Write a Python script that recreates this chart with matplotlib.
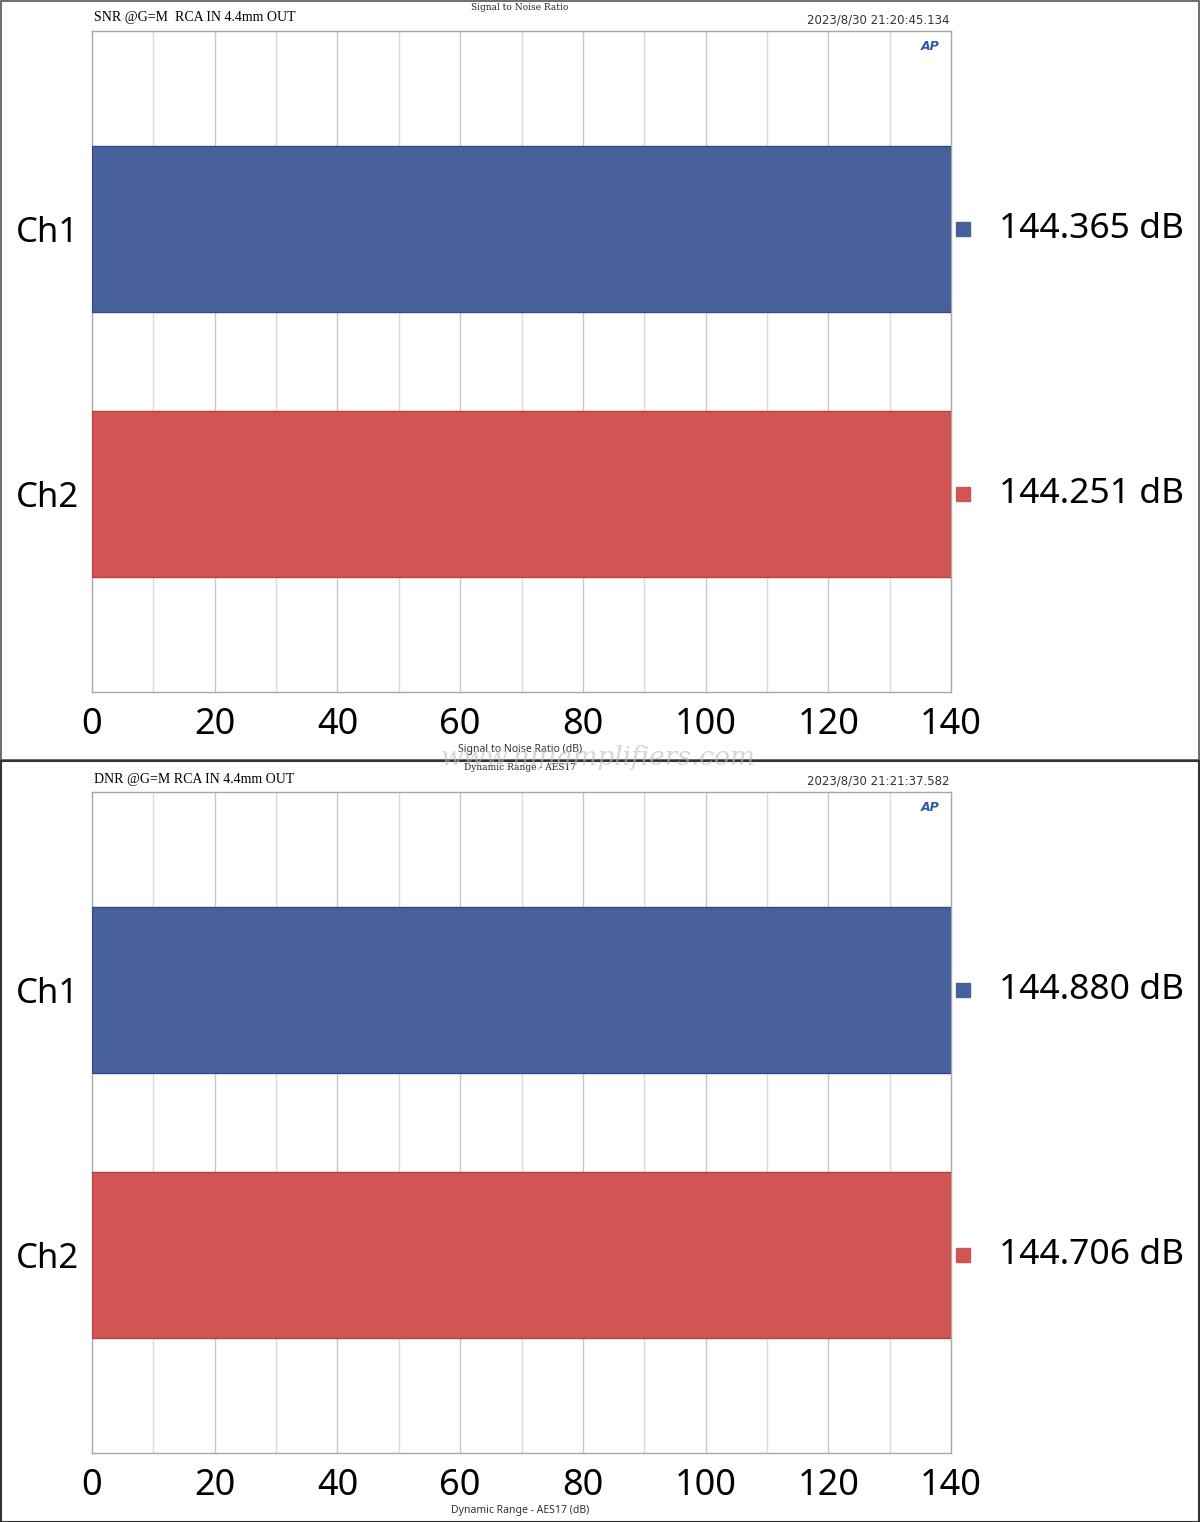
import matplotlib.pyplot as plt
from matplotlib.patches import Rectangle

# data
channels = ['Ch2', 'Ch1']
snr_values = [144.251, 144.365]
dnr_values = [144.706, 144.880]
bar_colors = ['#d15552', '#48619a']
edge_colors = ['#b8403d', '#35498a']
x_ticks = [0, 20, 40, 60, 80, 100, 120, 140]

panels = [
    dict(values=snr_values, note='SNR @G=M  RCA IN 4.4mm OUT', stamp='2023/8/30 21:20:45.134',
         title='Signal to Noise Ratio', xlabel='Signal to Noise Ratio (dB)', top=31),
    dict(values=dnr_values, note='DNR @G=M RCA IN 4.4mm OUT', stamp='2023/8/30 21:21:37.582',
         title='Dynamic Range - AES17', xlabel='Dynamic Range - AES17 (dB)', top=792),
]

W, H = 1200, 1522
fig = plt.figure(figsize=(W / 100, H / 100), dpi=100)
big = ['Noto Sans', 'DejaVu Sans']

for i, p in enumerate(panels):
    top = p['top']
    ax = fig.add_axes([92 / W, 1 - (top + 661) / H, 859 / W, 661 / H])
    ax.barh([0, 1], p['values'], height=0.625, color=bar_colors,
            edgecolor=edge_colors, linewidth=1, zorder=3)
    ax.set_xlim(0, 140)
    ax.set_ylim(-0.747, 1.747)
    for x in range(10, 140, 10):
        ax.axvline(x, color='#dadada' if x % 20 else '#c8c8c8', lw=1, zorder=1)
    ax.set_xticks(x_ticks)
    ax.set_xticklabels([str(t) for t in x_ticks], fontsize=26, family=big)
    ax.set_yticks([0, 1])
    ax.set_yticklabels(channels, fontsize=25, family=big)
    ax.tick_params(length=0, pad=9)
    ax.tick_params(axis='x', pad=11)
    for s in ax.spines.values():
        s.set_color('#a8a8a8')
        s.set_linewidth(1)

    # value legend at right
    for j, v in enumerate(p['values']):
        yc = ax.transData.transform((0, j))[1]
        yf = yc / H
        fig.patches.append(Rectangle((956 / W, yf - 7 / H), 14 / W, 14 / H,
                                     transform=fig.transFigure, color=bar_colors[j]))
        fig.text(999 / W, yf, f'{v:.3f} dB', fontsize=25.5, family=big, va='center', ha='left')

    # header texts
    ytxt = 1 - (top - 13) / H
    fig.text(94 / W, ytxt, p['note'], fontsize=10, family='Liberation Serif', va='center')
    fig.text(949 / W, ytxt - 2 / H, p['stamp'], fontsize=8.5, family='Liberation Sans Narrow',
             va='center', ha='right', color='#333333')
    fig.text(520 / W, 1 - (top - 24) / H, p['title'], fontsize=6.5, family='DejaVu Serif',
             va='center', ha='center', color='#222222')
    fig.text(930 / W, 1 - (top + 16) / H, 'AP', fontsize=9, family='DejaVu Sans', style='italic',
             weight='bold', color='#2a5aa8', va='center', ha='center')
    fig.text(520 / W, 1 - (top + 718) / H, p['xlabel'], fontsize=7.5, family='Noto Sans',
             va='center', ha='center', color='#333333')

# panel frames
fig.patches.append(Rectangle((0.5 / W, 1 - 760 / H), 1198.5 / W, 759.5 / H, transform=fig.transFigure,
                             fill=False, edgecolor='#555555', lw=1.2))
fig.patches.append(Rectangle((0.5 / W, 0.5 / H), 1198.5 / W, (H - 761) / H, transform=fig.transFigure,
                             fill=False, edgecolor='#333333', lw=1.5))

# watermark
fig.text(598 / W, 1 - 758 / H, 'www.hifiamplifiers.com', fontsize=19, family='DejaVu Serif',
         style='italic', color='#bbbbbb', alpha=0.6, va='center', ha='center')

fig.savefig('out.png', dpi=100)
